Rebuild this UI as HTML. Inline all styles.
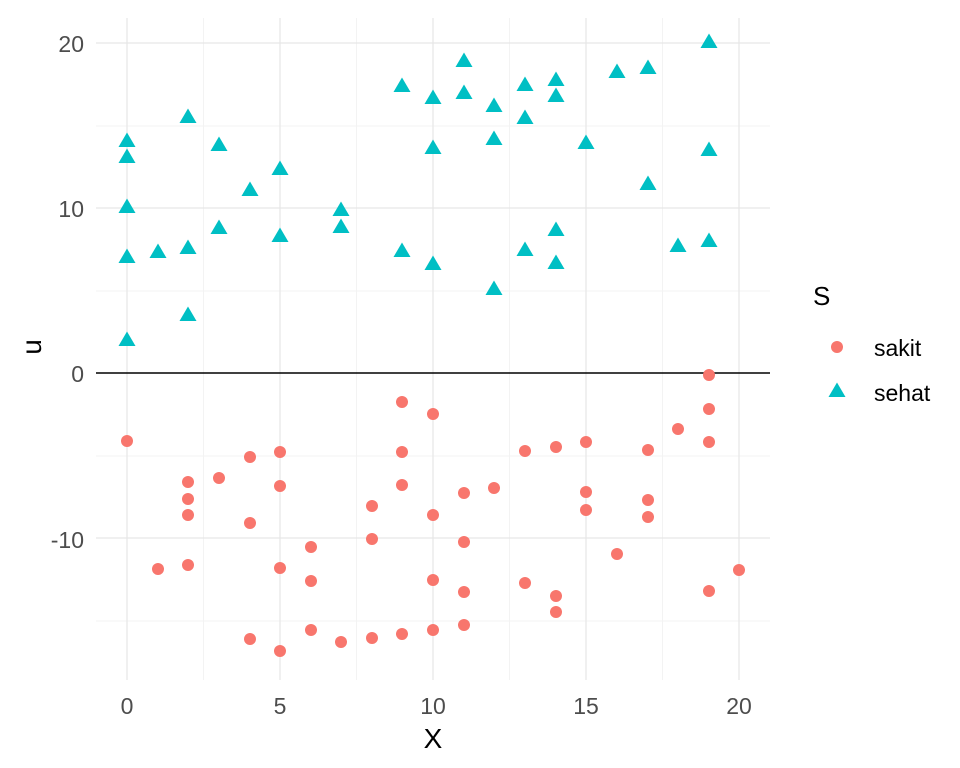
<!DOCTYPE html>
<html><head><meta charset="utf-8"><style>body{margin:0;background:#fff}svg{display:block}text{font-family:"Liberation Sans",sans-serif}</style></head>
<body>
<svg width="960" height="768" xmlns="http://www.w3.org/2000/svg">
<rect width="960" height="768" fill="#fff"/>
<g stroke="#f3f3f3" stroke-width="1">
<line x1="96" x2="770" y1="621" y2="621"/><line x1="96" x2="770" y1="456" y2="456"/><line x1="96" x2="770" y1="291" y2="291"/><line x1="96" x2="770" y1="126" y2="126"/>
<line y1="18" y2="680" x1="203.5" x2="203.5"/><line y1="18" y2="680" x1="356.5" x2="356.5"/><line y1="18" y2="680" x1="509.5" x2="509.5"/><line y1="18" y2="680" x1="662.5" x2="662.5"/>
</g>
<g stroke="#e6e6e6" stroke-width="1.2">
<line x1="96" x2="770" y1="538" y2="538"/><line x1="96" x2="770" y1="208" y2="208"/><line x1="96" x2="770" y1="43" y2="43"/>
<line y1="18" y2="680" x1="127" x2="127"/><line y1="18" y2="680" x1="280" x2="280"/><line y1="18" y2="680" x1="433" x2="433"/><line y1="18" y2="680" x1="586" x2="586"/><line y1="18" y2="680" x1="739" x2="739"/>
</g>
<line x1="96" x2="770" y1="373" y2="373" stroke="#000" stroke-width="1.5"/>
<g fill="#4d4d4d" font-size="23" text-anchor="end">
<text x="84" y="52">20</text><text x="84" y="217">10</text><text x="84" y="382">0</text><text x="84" y="548">-10</text>
</g>
<g fill="#4d4d4d" font-size="23" text-anchor="middle">
<text x="127" y="714">0</text><text x="280" y="714">5</text><text x="433" y="714">10</text><text x="586" y="714">15</text><text x="739" y="714">20</text>
</g>
<text x="433" y="748" font-size="28" text-anchor="middle">X</text>
<text transform="translate(41,347) rotate(-90)" font-size="28" text-anchor="middle">u</text>
<g fill="#F8766D" id="c"></g>
<g fill="#00BFC4" id="t"></g>
<text x="813" y="305" font-size="26">S</text>
<circle cx="837" cy="347" r="6" fill="#F8766D"/>
<polygon points="837,382.5 845.5,397 828.5,397" fill="#00BFC4"/>
<text x="874" y="356" font-size="23">sakit</text>
<text x="874" y="401" font-size="23">sehat</text>
<script>
var ns="http://www.w3.org/2000/svg";
var T=[[127,141],[127,157],[127,207],[127,257],[127,340],[158,252],[188,117],[188,248],[188,315],[219,145],[219,228],[250,190],[280,169],[280,236],[341,210],[341,227],[402,86],[402,251],[433,98],[433,148],[433,264],[464,61],[464,93],[494,106],[494,139],[494,289],[525,85],[525,118],[525,250],[556,80],[556,96],[556,230],[556,263],[586,143],[617,72],[648,68],[648,184],[678,246],[709,42],[709,150],[709,241]];
var C=[[127,441],[158,569],[188,482],[188,499],[188,515],[188,565],[219,478],[250,457],[250,523],[250,639],[280,452],[280,486],[280,568],[280,651],[311,547],[311,581],[311,630],[341,642],[372,506],[372,539],[372,638],[402,402],[402,452],[402,485],[402,634],[433,414],[433,515],[433,580],[433,630],[464,493],[464,542],[464,592],[464,625],[494,488],[525,451],[525,583],[556,447],[556,596],[556,612],[586,442],[586,492],[586,510],[617,554],[648,450],[648,500],[648,517],[678,429],[709,375],[709,409],[709,442],[709,591],[739,570]];
var g=document.getElementById('c');
C.forEach(function(p){var e=document.createElementNS(ns,'circle');e.setAttribute('cx',p[0]);e.setAttribute('cy',p[1]);e.setAttribute('r',6);g.appendChild(e);});
var h=document.getElementById('t');
T.forEach(function(p){var e=document.createElementNS(ns,'polygon');var x=p[0],y=p[1];e.setAttribute('points',x+','+(y-8.5)+' '+(x+8.5)+','+(y+6)+' '+(x-8.5)+','+(y+6));h.appendChild(e);});
</script>
</svg>
</body></html>
